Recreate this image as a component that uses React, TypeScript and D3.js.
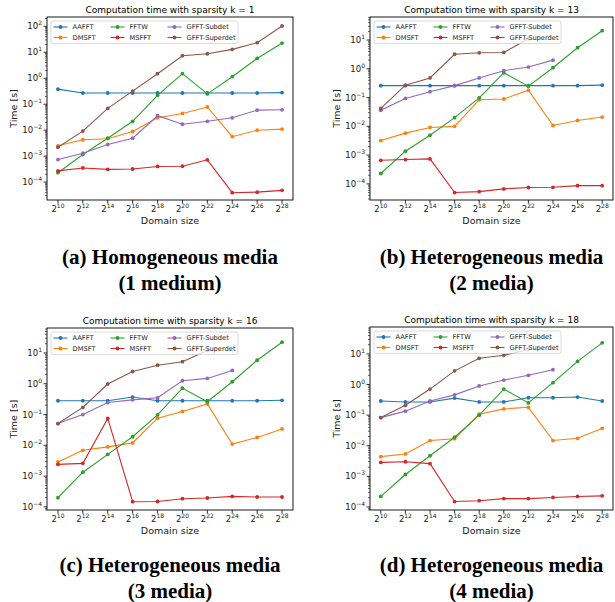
import React from 'react';
import * as d3 from 'd3';

// domain sizes are 2^e
const exponents = [10, 12, 14, 16, 18, 20, 22, 24, 26, 28];
const methods = ['AAFFT', 'DMSFT', 'FFTW', 'MSFFT', 'GFFT-Subdet', 'GFFT-Superdet'];
const colors = ['#1f77b4', '#ff7f0e', '#2ca02c', '#d62728', '#9467bd', '#8c564b'];

// k = 1
const aafft1 = [0.38, 0.27, 0.27, 0.27, 0.27, 0.27, 0.27, 0.27, 0.27, 0.28];
const dmsft1 = [0.0025, 0.0043, 0.0047, 0.0089, 0.03, 0.044, 0.078, 0.0056, 0.01, 0.011];
const fftw1 = [0.00023, 0.00115, 0.0049, 0.022, 0.22, 1.5, 0.25, 1.15, 5.8, 22.7];
const msfft1 = [0.00027, 0.00035, 0.00031, 0.00032, 0.0004, 0.00041, 0.00072, 0.000039, 0.000041, 0.000048];
const subdet1 = [0.00074, 0.0013, 0.0028, 0.0049, 0.036, 0.017, 0.022, 0.03, 0.059, 0.061];
const superdet1 = [0.0022, 0.0092, 0.069, 0.32, 1.5, 7.4, 8.8, 13, 23.4, 103];

// k = 13
const aafft13 = [0.26, 0.26, 0.26, 0.26, 0.26, 0.26, 0.26, 0.26, 0.26, 0.27];
const dmsft13 = [0.0032, 0.0058, 0.0091, 0.01, 0.084, 0.089, 0.18, 0.0107, 0.016, 0.021];
const fftw13 = [0.00023, 0.00137, 0.0049, 0.02, 0.098, 0.73, 0.25, 1.09, 5.4, 21.1];
const msfft13 = [0.00066, 0.0007, 0.00074, 0.00005, 0.000054, 0.000067, 0.000075, 0.000076, 0.000087, 0.000087];
const subdet13 = [0.036, 0.093, 0.16, 0.26, 0.48, 0.86, 1.15, 2.0, null, null];
const superdet13 = [0.042, 0.27, 0.48, 3.2, 3.6, 3.7, 11, null, null, null];

// k = 16
const aafft16 = [0.28, 0.28, 0.28, 0.37, 0.28, 0.28, 0.28, 0.28, 0.28, 0.29];
const dmsft16 = [0.0029, 0.0069, 0.0089, 0.012, 0.076, 0.126, 0.22, 0.011, 0.018, 0.034];
const fftw16 = [0.0002, 0.00134, 0.0051, 0.019, 0.098, 0.72, 0.26, 1.16, 5.8, 22.3];
const msfft16 = [0.0024, 0.0026, 0.075, 0.000148, 0.00015, 0.000185, 0.000195, 0.00022, 0.00021, 0.00021];
const subdet16 = [0.051, 0.1, 0.245, 0.3, 0.35, 1.25, 1.49, 2.7, null, null];
const superdet16 = [0.051, 0.17, 0.98, 2.5, 4.0, 5.2, 12, null, null, null];

// k = 18
const aafft18 = [0.29, 0.27, 0.27, 0.36, 0.27, 0.27, 0.37, 0.37, 0.39, 0.29];
const dmsft18 = [0.0044, 0.0054, 0.0148, 0.017, 0.107, 0.16, 0.18, 0.0148, 0.0175, 0.037];
const fftw18 = [0.00022, 0.00115, 0.0047, 0.019, 0.1, 0.71, 0.25, 1.15, 5.7, 23];
const msfft18 = [0.00285, 0.003, 0.0026, 0.00015, 0.00016, 0.000187, 0.000187, 0.000204, 0.00022, 0.00023];
const subdet18 = [0.083, 0.135, 0.29, 0.46, 0.9, 1.4, 2.0, 3.06, null, null];
const superdet18 = [0.083, 0.21, 0.71, 2.8, 7.2, 9.0, 14, null, null, null];

const panels = [
  { k: 1, series: [aafft1, dmsft1, fftw1, msfft1, subdet1, superdet1], yExp: [-4.69, 2.36],
    box: { left: 47, right: 293, top: 17, bottom: 200 }, caption: ['(a) Homogeneous media', '(1 medium)'] },
  { k: 13, series: [aafft13, dmsft13, fftw13, msfft13, subdet13, superdet13], yExp: [-4.56, 1.8],
    box: { left: 370, right: 613, top: 17, bottom: 200 }, caption: ['(b) Heterogeneous media', '(2 media)'] },
  { k: 16, series: [aafft16, dmsft16, fftw16, msfft16, subdet16, superdet16], yExp: [-4.1, 1.81],
    box: { left: 47, right: 293, top: 328, bottom: 510 }, caption: ['(c) Heterogeneous media', '(3 media)'] },
  { k: 18, series: [aafft18, dmsft18, fftw18, msfft18, subdet18, superdet18], yExp: [-4.1, 1.88],
    box: { left: 370, right: 613, top: 327, bottom: 510 }, caption: ['(d) Heterogeneous media', '(4 media)'] },
];

const FONT = 'DejaVu Sans';

const Panel = ({ p, idx }) => {
  const { left, right, top, bottom } = p.box;
  const x = d3.scaleLog().base(2).domain([2 ** 9.12, 2 ** 28.88]).range([left, right]);
  const y = d3.scaleLog().domain([10 ** p.yExp[0], 10 ** p.yExp[1]]).range([bottom, top]);

  const majors = d3.range(Math.ceil(p.yExp[0]), Math.floor(p.yExp[1]) + 1);
  const minors = [];
  for (let e = Math.floor(p.yExp[0]); e <= Math.ceil(p.yExp[1]); e++) {
    for (let m = 2; m <= 9; m++) {
      const v = m * 10 ** e;
      if (v >= 10 ** p.yExp[0] && v <= 10 ** p.yExp[1]) minors.push(v);
    }
  }

  const line = d3.line()
    .defined((d) => d[1] != null)
    .x((d) => x(2 ** d[0]))
    .y((d) => y(d[1]));

  const clipId = 'clip' + idx;
  const fl = left + 4;
  const ft = top + 4;
  const cx = (left + right) / 2;

  return (
    <g>
      <defs>
        <clipPath id={clipId}>
          <rect x={left} y={top} width={right - left} height={bottom - top} />
        </clipPath>
      </defs>
      <text x={cx} y={top - 4} textAnchor="middle" fontSize={9} fontFamily={FONT}>
        {'Computation time with sparsity k = ' + p.k}
      </text>

      <g clipPath={`url(#${clipId})`}>
        {p.series.map((vals, i) => {
          const pts = exponents.map((e, j) => [e, vals[j]]);
          return (
            <g key={i}>
              <path d={line(pts)} fill="none" stroke={colors[i]} strokeWidth={1.1} />
              {pts.filter((d) => d[1] != null).map((d, j) => (
                <circle key={j} cx={x(2 ** d[0])} cy={y(d[1])} r={1.9} fill={colors[i]} />
              ))}
            </g>
          );
        })}
      </g>

      {/* y axis ticks */}
      {minors.map((v, i) => (
        <line key={'mn' + i} x1={left} x2={left - 2} y1={y(v)} y2={y(v)} stroke="#000" strokeWidth={0.6} />
      ))}
      {majors.map((e) => (
        <g key={'mj' + e}>
          <line x1={left} x2={left - 3.5} y1={y(10 ** e)} y2={y(10 ** e)} stroke="#000" strokeWidth={0.8} />
          <text x={left - 5} y={y(10 ** e) + 3} textAnchor="end" fontSize={8.5} fontFamily={FONT} fill="#222">
            10<tspan dy={-4} fontSize={6}>{e < 0 ? '\u2212' + -e : String(e)}</tspan>
          </text>
        </g>
      ))}

      {/* x axis ticks */}
      {exponents.map((e) => (
        <g key={'x' + e}>
          <line x1={x(2 ** e)} x2={x(2 ** e)} y1={bottom} y2={bottom + 3.5} stroke="#000" strokeWidth={0.8} />
          <text x={x(2 ** e)} y={bottom + 12} textAnchor="middle" fontSize={8.5} fontFamily={FONT} fill="#222">
            2<tspan dy={-4} fontSize={6}>{e}</tspan>
          </text>
        </g>
      ))}

      <rect x={left} y={top} width={right - left} height={bottom - top} fill="none" stroke="#000" strokeWidth={0.9} />

      <text x={cx} y={bottom + 24} textAnchor="middle" fontSize={9.5} fontFamily={FONT} fill="#222">Domain size</text>
      <text transform={`translate(${left - 30},${(top + bottom) / 2}) rotate(-90)`} textAnchor="middle"
        fontSize={9.5} fontFamily={FONT} fill="#222">Time [s]</text>

      {/* legend, 3 columns filled column-wise */}
      <rect x={fl} y={ft} width={187} height={22.5} rx={2} fill="#fff" fillOpacity={0.8} stroke="#ccc" strokeWidth={0.7} />
      {methods.map((m, i) => {
        const col = Math.floor(i / 2);
        const row = i % 2;
        const hx = fl + 2.5 + [0, 57, 114][col];
        const ty = ft + 6 + row * 10.5;
        return (
          <g key={m}>
            <line x1={hx} x2={hx + 14} y1={ty} y2={ty} stroke={colors[i]} strokeWidth={1.1} />
            <circle cx={hx + 7} cy={ty} r={1.9} fill={colors[i]} />
            <text x={hx + 19} y={ty + 2.4} fontSize={6.7} fontFamily={FONT} fill="#222">{m}</text>
          </g>
        );
      })}

      {/* caption */}
      <text x={cx} y={p.box.bottom + (idx < 2 ? 64 : 62)} textAnchor="middle" fontSize={21}
        fontFamily="Liberation Serif" fontWeight="bold">{p.caption[0]}</text>
      <text x={cx} y={p.box.bottom + (idx < 2 ? 90 : 88)} textAnchor="middle" fontSize={21}
        fontFamily="Liberation Serif" fontWeight="bold">{p.caption[1]}</text>
    </g>
  );
};

export default function App() {
  return (
    <svg width={615} height={602} style={{ position: 'absolute', left: 0, top: 0, background: '#fff' }}>
      <rect width={615} height={602} fill="#fff" />
      {panels.map((p, i) => (
        <Panel key={i} p={p} idx={i} />
      ))}
    </svg>
  );
}
